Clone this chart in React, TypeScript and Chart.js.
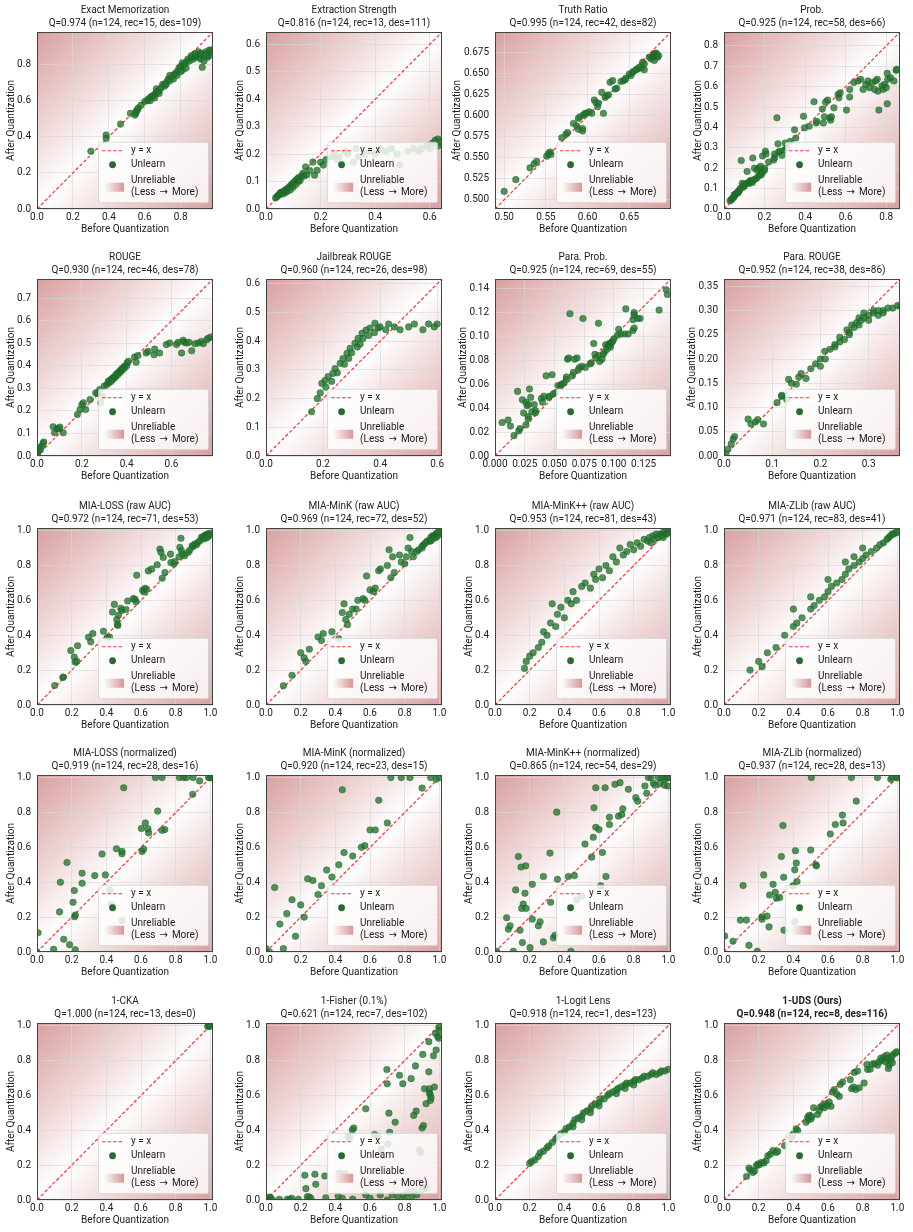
import { useEffect, useRef } from "react";
import { Chart, registerables } from "chart.js";

Chart.register(...registerables);

type Pt = [number, number];

// ---- per-metric scores: [before quantization, after quantization] ----
const exactMemorization: Pt[] = [
  [0.30,0.32],[0.385,0.41],[0.385,0.39],[0.465,0.47],[0.52,0.53],[0.545,0.52],[0.55,0.535],[0.555,0.545],[0.56,0.55],[0.565,0.56],
  [0.55,0.53],[0.58,0.575],[0.6,0.595],[0.615,0.6],[0.62,0.61],[0.63,0.6],[0.635,0.62],[0.64,0.625],[0.65,0.63],[0.655,0.615],
  [0.66,0.64],[0.665,0.665],[0.67,0.65],[0.68,0.655],[0.69,0.67],[0.70,0.69],[0.71,0.68],[0.72,0.70],[0.73,0.72],[0.74,0.71],
  [0.75,0.73],[0.76,0.74],[0.77,0.75],[0.78,0.76],[0.79,0.78],[0.80,0.79],[0.81,0.77],[0.81,0.81],[0.82,0.80],[0.83,0.81],
  [0.84,0.83],[0.85,0.82],[0.86,0.84],[0.87,0.83],[0.88,0.84],[0.89,0.85],[0.90,0.87],[0.90,0.84],[0.91,0.83],[0.92,0.785],
  [0.92,0.86],[0.93,0.85],[0.93,0.82],[0.94,0.87],[0.95,0.86],[0.95,0.84],[0.96,0.88],[0.96,0.85],[0.97,0.87],[0.97,0.88],
  [0.76,0.72],[0.72,0.69],[0.68,0.64],[0.78,0.74],[0.74,0.74],[0.8,0.76],[0.83,0.78],[0.86,0.85],[0.88,0.86],[0.91,0.86],[0.94,0.85],
];
const extractionStrength: Pt[] = [
  [0.035,0.04],[0.04,0.045],[0.045,0.05],[0.05,0.052],[0.052,0.058],[0.055,0.06],[0.06,0.062],[0.062,0.055],[0.065,0.065],[0.07,0.068],
  [0.072,0.06],[0.075,0.072],[0.08,0.075],[0.08,0.066],[0.085,0.08],[0.09,0.085],[0.09,0.07],[0.095,0.09],[0.1,0.095],[0.1,0.08],
  [0.105,0.1],[0.11,0.105],[0.11,0.09],[0.115,0.11],[0.12,0.1],[0.12,0.115],[0.125,0.105],[0.13,0.12],[0.135,0.13],[0.14,0.12],
  [0.145,0.153],[0.15,0.125],[0.16,0.14],[0.172,0.171],[0.178,0.123],[0.187,0.141],[0.2,0.17],[0.21,0.16],[0.22,0.18],[0.24,0.19],
  [0.25,0.2],[0.26,0.18],[0.27,0.19],[0.29,0.21],[0.3,0.2],[0.32,0.17],[0.33,0.22],[0.34,0.19],[0.36,0.2],[0.38,0.21],
  [0.4,0.2],[0.42,0.22],[0.44,0.21],[0.46,0.22],[0.48,0.2],[0.49,0.16],[0.52,0.21],[0.54,0.22],[0.56,0.21],[0.57,0.22],
  [0.59,0.23],[0.6,0.22],[0.61,0.24],[0.62,0.25],[0.63,0.255],[0.63,0.23],[0.635,0.245],
];
const truthRatio: Pt[] = [
  [0.500,0.510],[0.514,0.524],[0.531,0.538],[0.536,0.543],[0.539,0.546],[0.551,0.552],[0.553,0.555],[0.555,0.557],[0.556,0.554],[0.569,0.574],
  [0.574,0.578],[0.576,0.580],[0.583,0.591],[0.587,0.588],[0.589,0.584],[0.594,0.585],[0.594,0.582],[0.589,0.597],[0.591,0.599],[0.595,0.601],
  [0.597,0.603],[0.599,0.603],[0.602,0.605],[0.605,0.603],[0.608,0.619],[0.610,0.616],[0.612,0.611],[0.613,0.615],[0.617,0.628],[0.619,0.603],
  [0.621,0.622],[0.623,0.624],[0.625,0.625],[0.627,0.640],[0.630,0.642],[0.633,0.632],[0.635,0.633],[0.640,0.641],[0.643,0.642],[0.645,0.643],
  [0.646,0.645],[0.650,0.650],[0.652,0.648],[0.654,0.652],[0.655,0.653],[0.658,0.655],[0.660,0.656],[0.662,0.658],[0.665,0.657],[0.666,0.664],
  [0.668,0.655],[0.668,0.662],[0.674,0.670],[0.676,0.668],[0.678,0.671],[0.679,0.670],[0.680,0.674],[0.681,0.672],[0.682,0.675],[0.683,0.673],
  [0.684,0.670],[0.685,0.672],[0.680,0.666],
];
const prob: Pt[] = [
  [0.03,0.04],[0.035,0.045],[0.04,0.05],[0.045,0.055],[0.05,0.06],[0.05,0.07],[0.055,0.07],[0.06,0.075],[0.065,0.08],[0.07,0.085],
  [0.07,0.08],[0.075,0.09],[0.08,0.1],[0.085,0.238],[0.09,0.105],[0.09,0.126],[0.1,0.12],[0.1,0.11],[0.11,0.125],[0.114,0.184],
  [0.12,0.13],[0.125,0.125],[0.13,0.135],[0.13,0.14],[0.14,0.14],[0.14,0.13],[0.142,0.25],[0.15,0.145],[0.15,0.2],[0.16,0.15],
  [0.163,0.19],[0.17,0.16],[0.17,0.2],[0.18,0.17],[0.18,0.21],[0.184,0.168],[0.19,0.26],[0.19,0.18],[0.2,0.19],[0.2,0.2],
  [0.204,0.283],[0.207,0.27],[0.22,0.23],[0.245,0.24],[0.25,0.253],[0.25,0.27],[0.261,0.447],[0.266,0.32],[0.27,0.28],[0.278,0.283],
  [0.286,0.263],[0.3,0.29],[0.302,0.324],[0.31,0.3],[0.327,0.332],[0.348,0.389],[0.354,0.348],[0.392,0.455],[0.397,0.398],[0.42,0.406],
  [0.444,0.526],[0.455,0.422],[0.457,0.43],[0.485,0.49],[0.49,0.422],[0.495,0.452],[0.501,0.524],[0.511,0.534],[0.522,0.447],[0.526,0.435],
  [0.53,0.452],[0.542,0.496],[0.563,0.562],[0.567,0.545],[0.573,0.57],[0.604,0.485],[0.62,0.586],[0.62,0.549],[0.64,0.62],[0.661,0.628],
  [0.674,0.636],[0.686,0.586],[0.699,0.611],[0.71,0.628],[0.718,0.595],[0.731,0.619],[0.743,0.586],[0.748,0.628],[0.756,0.636],[0.759,0.578],
  [0.764,0.485],[0.779,0.603],[0.784,0.586],[0.792,0.611],[0.8,0.595],[0.805,0.665],[0.805,0.516],[0.808,0.636],[0.821,0.644],[0.838,0.628],
  [0.849,0.68],[0.852,0.685],
];
const rouge: Pt[] = [
  [0.003,0.007],[0.005,0.022],[0.008,0.037],[0.015,0.027],[0.022,0.044],[0.027,0.056],[0.03,0.062],[0.072,0.13],[0.078,0.103],[0.09,0.121],
  [0.097,0.121],[0.102,0.128],[0.117,0.103],[0.18,0.184],[0.192,0.206],[0.2,0.228],[0.207,0.236],[0.217,0.206],[0.237,0.25],[0.262,0.28],
  [0.27,0.277],[0.28,0.295],[0.285,0.236],[0.292,0.265],[0.3,0.31],[0.312,0.317],[0.318,0.332],[0.32,0.325],[0.33,0.339],[0.33,0.33],
  [0.337,0.346],[0.34,0.34],[0.345,0.351],[0.35,0.35],[0.352,0.361],[0.36,0.368],[0.36,0.36],[0.367,0.375],[0.37,0.37],[0.375,0.383],
  [0.38,0.38],[0.382,0.39],[0.39,0.398],[0.39,0.39],[0.4,0.4],[0.402,0.413],[0.408,0.42],[0.435,0.439],[0.442,0.416],[0.45,0.445],
  [0.487,0.457],[0.495,0.464],[0.522,0.449],[0.525,0.474],[0.547,0.457],[0.577,0.494],[0.592,0.501],[0.622,0.494],[0.63,0.504],[0.645,0.457],
  [0.652,0.513],[0.657,0.504],[0.667,0.501],[0.678,0.504],[0.69,0.467],[0.705,0.498],[0.72,0.501],[0.732,0.508],[0.742,0.498],[0.757,0.516],
  [0.765,0.523],[0.777,0.528],
];
const jailbreakRouge: Pt[] = [
  [0.16,0.154],[0.18,0.2],[0.19,0.22],[0.196,0.253],[0.207,0.263],[0.21,0.24],[0.218,0.277],[0.23,0.26],[0.235,0.288],[0.242,0.305],
  [0.25,0.29],[0.26,0.323],[0.27,0.34],[0.275,0.32],[0.284,0.358],[0.29,0.34],[0.295,0.375],[0.3,0.36],[0.312,0.393],[0.32,0.38],
  [0.323,0.41],[0.33,0.39],[0.337,0.428],[0.34,0.41],[0.351,0.439],[0.36,0.42],[0.365,0.446],[0.38,0.43],[0.382,0.463],[0.393,0.446],
  [0.4,0.45],[0.42,0.44],[0.43,0.46],[0.45,0.45],[0.47,0.44],[0.5,0.45],[0.52,0.46],[0.55,0.44],[0.57,0.46],[0.6,0.46],[0.59,0.45],
];
const paraProb: Pt[] = [
  [0.006,0.028],[0.011,0.03],[0.013,0.025],[0.016,0.017],[0.019,0.054],[0.020,0.021],[0.021,0.023],[0.023,0.047],[0.024,0.036],[0.026,0.045],
  [0.026,0.026],[0.027,0.042],[0.028,0.043],[0.028,0.033],[0.028,0.031],[0.029,0.056],[0.03,0.049],[0.031,0.037],[0.033,0.043],[0.034,0.038],
  [0.034,0.036],[0.039,0.048],[0.04,0.045],[0.041,0.05],[0.043,0.067],[0.045,0.049],[0.046,0.05],[0.048,0.068],[0.049,0.052],[0.051,0.053],
  [0.053,0.059],[0.055,0.059],[0.056,0.06],[0.058,0.061],[0.06,0.066],[0.06,0.064],[0.061,0.081],[0.062,0.082],[0.063,0.119],[0.065,0.067],
  [0.066,0.07],[0.067,0.081],[0.069,0.082],[0.07,0.072],[0.071,0.074],[0.073,0.075],[0.074,0.115],[0.076,0.074],[0.08,0.077],[0.081,0.078],
  [0.083,0.094],[0.084,0.085],[0.085,0.082],[0.087,0.111],[0.087,0.084],[0.088,0.079],[0.09,0.081],[0.091,0.085],[0.092,0.087],[0.093,0.093],
  [0.094,0.089],[0.095,0.092],[0.096,0.094],[0.097,0.091],[0.097,0.093],[0.098,0.095],[0.099,0.096],[0.1,0.098],[0.103,0.101],[0.104,0.106],
  [0.106,0.102],[0.109,0.102],[0.11,0.123],[0.112,0.102],[0.116,0.105],[0.117,0.107],[0.116,0.114],[0.117,0.12],[0.117,0.118],[0.12,0.115],
  [0.122,0.115],[0.138,0.122],[0.144,0.139],[0.145,0.135],
];
const paraRouge: Pt[] = [
  [0.004,0.004],[0.008,0.014],[0.015,0.025],[0.019,0.035],[0.022,0.04],[0.05,0.076],[0.056,0.066],[0.065,0.07],[0.07,0.075],[0.082,0.066],
  [0.11,0.11],[0.119,0.123],[0.12,0.125],[0.13,0.117],[0.134,0.158],[0.14,0.15],[0.15,0.148],[0.155,0.163],[0.16,0.17],[0.17,0.16],
  [0.18,0.18],[0.19,0.19],[0.2,0.2],[0.2,0.185],[0.209,0.216],[0.21,0.2],[0.22,0.22],[0.23,0.225],[0.23,0.23],[0.24,0.235],
  [0.24,0.245],[0.25,0.24],[0.255,0.26],[0.26,0.255],[0.26,0.25],[0.265,0.27],[0.27,0.265],[0.275,0.275],[0.28,0.27],[0.28,0.285],
  [0.285,0.28],[0.29,0.285],[0.29,0.295],[0.3,0.29],[0.3,0.28],[0.31,0.295],[0.31,0.3],[0.32,0.3],[0.32,0.29],[0.33,0.3],
  [0.33,0.295],[0.34,0.305],[0.35,0.305],[0.36,0.31],[0.366,0.309],
];
const miaLossRaw: Pt[] = [
  [0.102,0.112],[0.149,0.158],[0.152,0.16],[0.195,0.312],[0.215,0.275],[0.22,0.246],[0.23,0.25],[0.234,0.34],[0.297,0.388],[0.31,0.362],
  [0.322,0.41],[0.383,0.423],[0.406,0.388],[0.418,0.39],[0.435,0.533],[0.446,0.577],[0.46,0.49],[0.464,0.462],[0.466,0.456],[0.47,0.515],
  [0.483,0.554],[0.489,0.542],[0.513,0.548],[0.523,0.596],[0.556,0.61],[0.565,0.606],[0.571,0.592],[0.575,0.744],[0.609,0.658],[0.617,0.648],
  [0.623,0.669],[0.632,0.663],[0.642,0.769],[0.661,0.779],[0.693,0.804],[0.709,0.894],[0.715,0.875],[0.722,0.727],[0.728,0.846],[0.738,0.76],
  [0.77,0.865],[0.772,0.817],[0.789,0.808],[0.795,0.823],[0.82,0.85],[0.824,0.904],[0.83,0.956],[0.833,0.885],[0.839,0.865],[0.852,0.856],
  [0.872,0.875],[0.881,0.888],[0.895,0.913],[0.9,0.908],[0.91,0.923],[0.92,0.919],[0.929,0.933],[0.939,0.942],[0.948,0.962],[0.958,0.965],
  [0.962,0.952],[0.967,0.971],[0.977,0.977],[0.977,0.958],[0.987,0.981],[0.987,0.965],[0.996,0.985],[0.996,0.977],
];
const miaMinKRaw: Pt[] = [
  [0.1,0.11],[0.15,0.17],[0.2,0.3],[0.22,0.27],[0.23,0.25],[0.25,0.32],[0.3,0.39],[0.32,0.37],[0.33,0.41],[0.38,0.42],
  [0.42,0.38],[0.44,0.53],[0.45,0.58],[0.46,0.49],[0.47,0.46],[0.48,0.52],[0.5,0.55],[0.52,0.55],[0.53,0.6],[0.56,0.61],
  [0.57,0.6],[0.58,0.74],[0.6,0.66],[0.62,0.65],[0.63,0.67],[0.65,0.77],[0.66,0.78],[0.7,0.8],[0.71,0.89],[0.72,0.73],
  [0.73,0.85],[0.74,0.76],[0.77,0.86],[0.78,0.82],[0.8,0.81],[0.81,0.85],[0.82,0.9],[0.83,0.96],[0.84,0.88],[0.85,0.85],
  [0.87,0.88],[0.88,0.89],[0.9,0.91],[0.91,0.92],[0.93,0.94],[0.95,0.96],[0.96,0.97],[0.97,0.97],[0.98,0.98],[0.99,0.98],
  [1.0,0.99],[0.97,0.96],[0.98,0.96],[0.99,0.97],[0.96,0.95],[0.94,0.94],[0.9,0.9],[0.92,0.93],[0.95,0.94],[0.99,0.99],
];
const miaMinKppRaw: Pt[] = [
  [0.17,0.21],[0.18,0.25],[0.2,0.28],[0.22,0.3],[0.25,0.33],[0.27,0.36],[0.28,0.42],[0.3,0.4],[0.32,0.47],[0.33,0.58],
  [0.35,0.45],[0.36,0.52],[0.38,0.56],[0.4,0.5],[0.42,0.6],[0.44,0.58],[0.45,0.65],[0.47,0.6],[0.5,0.68],[0.52,0.7],
  [0.55,0.67],[0.57,0.75],[0.58,0.72],[0.6,0.78],[0.62,0.73],[0.64,0.8],[0.66,0.77],[0.68,0.85],[0.7,0.82],[0.72,0.9],
  [0.74,0.86],[0.76,0.88],[0.78,0.92],[0.8,0.89],[0.82,0.93],[0.84,0.91],[0.86,0.95],[0.88,0.94],[0.89,0.96],[0.9,0.93],
  [0.91,0.97],[0.92,0.95],[0.93,0.98],[0.94,0.96],[0.95,0.98],[0.96,0.97],[0.97,0.99],[0.98,0.98],[0.99,1.0],[1.0,0.99],
  [0.97,0.96],[0.99,0.98],
];
const miaZlibRaw: Pt[] = [
  [0.15,0.2],[0.2,0.25],[0.22,0.22],[0.25,0.3],[0.3,0.33],[0.35,0.4],[0.4,0.45],[0.4,0.55],[0.42,0.47],[0.45,0.5],
  [0.5,0.55],[0.5,0.62],[0.52,0.57],[0.55,0.6],[0.58,0.62],[0.6,0.65],[0.6,0.72],[0.62,0.68],[0.65,0.7],[0.68,0.72],
  [0.7,0.75],[0.7,0.82],[0.72,0.78],[0.75,0.8],[0.75,0.85],[0.78,0.82],[0.8,0.84],[0.8,0.9],[0.82,0.86],[0.85,0.88],
  [0.88,0.9],[0.9,0.92],[0.92,0.93],[0.94,0.95],[0.95,0.96],[0.96,0.97],[0.97,0.98],[0.98,0.98],[0.99,0.99],[1.0,0.99],
];
const miaLossNorm: Pt[] = [
  [0.0,0.0],[0.006,0.11],[0.096,0.015],[0.13,0.23],[0.135,0.4],[0.154,0.073],[0.173,0.513],[0.188,0.042],[0.208,0.285],[0.215,0.352],
  [0.217,0.202],[0.221,0.212],[0.221,0.013],[0.26,0.452],[0.26,0.394],[0.333,0.438],[0.375,0.562],[0.394,0.442],[0.419,0.356],[0.427,0.273],
  [0.458,0.592],[0.49,0.577],[0.49,0.563],[0.49,0.18],[0.5,0.942],[0.602,0.708],[0.606,0.577],[0.615,0.59],[0.625,0.74],[0.64,0.706],
  [0.644,0.683],[0.683,1.0],[0.696,0.808],[0.721,1.0],[0.721,0.698],[0.737,0.702],[0.821,1.0],[0.846,1.0],[0.862,1.0],[0.9,1.0],
  [0.898,0.904],[0.938,0.981],[0.996,1.0],[1.0,1.0],[0.99,1.0],
];
const miaMinKNorm: Pt[] = [
  [0.0,0.02],[0.02,0.0],[0.05,0.37],[0.08,0.16],[0.1,0.02],[0.12,0.22],[0.15,0.3],[0.17,0.09],[0.2,0.27],[0.22,0.2],
  [0.24,0.42],[0.27,0.41],[0.3,0.33],[0.32,0.38],[0.35,0.47],[0.38,0.43],[0.42,0.5],[0.44,0.93],[0.45,0.57],[0.5,0.55],
  [0.55,0.6],[0.57,0.61],[0.6,0.7],[0.63,0.7],[0.65,0.87],[0.7,0.74],[0.72,1.0],[0.78,1.0],[0.83,1.0],[0.9,0.94],
  [0.95,1.0],[0.98,0.99],[1.0,1.0],
];
const miaMinKppNorm: Pt[] = [
  [0.01,0.004],[0.067,0.196],[0.077,0.131],[0.087,0.15],[0.106,0.004],[0.119,0.356],[0.135,0.548],[0.144,0.125],[0.15,0.487],[0.154,0.25],
  [0.158,0.054],[0.163,0.275],[0.173,0.337],[0.177,0.494],[0.179,0.25],[0.202,0.025],[0.215,0.388],[0.215,0.188],[0.25,0.15],[0.26,0.173],
  [0.279,0.433],[0.279,0.058],[0.317,0.567],[0.321,0.285],[0.337,0.081],[0.346,0.096],[0.356,0.802],[0.36,0.417],[0.423,0.433],[0.438,0.004],
  [0.458,0.438],[0.47,0.3],[0.5,0.32],[0.519,0.619],[0.558,0.544],[0.567,0.658],[0.571,0.827],[0.581,0.942],[0.581,0.715],[0.6,0.702],
  [0.61,0.38],[0.619,0.571],[0.635,0.942],[0.64,0.433],[0.66,0.773],[0.66,0.731],[0.692,0.962],[0.712,0.779],[0.721,0.971],[0.731,0.788],
  [0.737,0.821],[0.769,0.933],[0.812,0.885],[0.823,0.865],[0.865,0.952],[0.875,0.91],[0.885,1.0],[0.9,1.0],[0.913,0.967],[0.923,0.956],
  [0.942,1.0],[0.952,0.967],[0.962,1.0],[0.977,0.956],[0.981,0.99],[0.99,1.0],[0.996,0.952],[1.0,1.0],
];
const miaZlibNorm: Pt[] = [
  [0.004,0.092],[0.052,0.062],[0.094,0.183],[0.11,0.381],[0.129,0.183],[0.144,0.038],[0.192,0.004],[0.219,0.202],[0.219,0.188],[0.229,0.442],
  [0.248,0.206],[0.26,0.144],[0.263,0.327],[0.283,0.388],[0.296,0.342],[0.302,0.308],[0.321,0.312],[0.331,0.548],[0.34,0.725],[0.344,0.429],
  [0.346,0.125],[0.398,0.379],[0.408,0.471],[0.412,0.581],[0.417,0.51],[0.421,0.404],[0.408,0.173],[0.5,0.585],[0.504,1.0],[0.529,0.5],
  [0.533,0.494],[0.613,0.677],[0.642,0.731],[0.687,0.74],[0.683,0.785],[0.735,1.0],[0.763,0.865],[0.885,1.0],[0.962,0.99],[0.969,1.0],
  [1.0,1.0],[0.995,1.0],
];
const oneMinusCka: Pt[] = [
  [0.985,0.995],[0.99,1.0],[0.995,1.0],[1.0,1.0],[0.998,0.997],[0.993,0.998],
];
const oneMinusFisher: Pt[] = [
  [0.01,0.004],[0.019,0.017],[0.027,0.013],[0.038,0.0],[0.077,0.004],[0.123,0.004],[0.138,0.004],[0.148,0.01],[0.186,0.004],[0.224,0.142],
  [0.23,0.065],[0.238,0.019],[0.249,0.017],[0.259,0.01],[0.282,0.148],[0.287,0.09],[0.345,0.013],[0.339,0.138],[0.416,0.023],[0.425,0.154],
  [0.44,0.01],[0.454,0.152],[0.473,0.36],[0.483,0.36],[0.498,0.402],[0.5,0.005],[0.506,0.413],[0.575,0.523],[0.575,0.029],[0.6,0.01],
  [0.626,0.375],[0.646,0.365],[0.659,0.029],[0.665,0.292],[0.697,0.748],[0.699,0.667],[0.7,0.0],[0.703,0.321],[0.709,0.498],[0.713,0.388],
  [0.728,0.029],[0.745,0.446],[0.76,0.02],[0.77,0.715],[0.789,0.667],[0.793,0.029],[0.8,0.005],[0.818,0.042],[0.837,0.696],[0.84,0.02],
  [0.852,0.485],[0.855,0.05],[0.862,0.769],[0.866,0.51],[0.87,0.03],[0.885,0.287],[0.891,0.273],[0.9,0.413],[0.9,0.06],[0.904,0.835],
  [0.908,0.427],[0.914,0.638],[0.923,0.552],[0.923,0.07],[0.939,0.908],[0.939,0.735],[0.943,0.638],[0.943,0.613],[0.946,0.606],[0.948,0.571],
  [0.952,0.587],[0.966,0.827],[0.971,0.648],[0.977,0.956],[0.981,0.86],[0.99,0.937],[0.996,0.99],[0.996,0.927],[1.0,0.971],
];
const oneMinusLogitLens: Pt[] = [
  [0.2,0.21],[0.21,0.22],[0.23,0.23],[0.25,0.25],[0.26,0.27],[0.28,0.28],[0.3,0.3],[0.31,0.31],[0.33,0.33],[0.35,0.35],
  [0.36,0.36],[0.38,0.38],[0.4,0.39],[0.41,0.41],[0.43,0.42],[0.45,0.44],[0.46,0.46],[0.48,0.47],[0.5,0.48],[0.51,0.5],
  [0.53,0.51],[0.55,0.52],[0.56,0.54],[0.58,0.55],[0.6,0.56],[0.61,0.58],[0.63,0.58],[0.65,0.6],[0.66,0.61],[0.68,0.62],
  [0.7,0.63],[0.71,0.64],[0.73,0.65],[0.75,0.66],[0.76,0.67],[0.78,0.67],[0.8,0.68],[0.81,0.69],[0.83,0.69],[0.85,0.7],
  [0.86,0.71],[0.88,0.71],[0.9,0.72],[0.91,0.73],[0.93,0.72],[0.95,0.73],[0.96,0.74],[0.98,0.74],[1.0,0.75],[0.55,0.5],
  [0.6,0.54],[0.7,0.61],[0.75,0.64],[0.8,0.66],[0.45,0.42],[0.5,0.46],
];
const oneMinusUds: Pt[] = [
  [0.13,0.135],[0.144,0.183],[0.153,0.171],[0.167,0.158],[0.176,0.167],[0.186,0.196],[0.195,0.206],[0.205,0.202],[0.215,0.215],[0.23,0.212],
  [0.243,0.225],[0.253,0.254],[0.268,0.263],[0.282,0.283],[0.301,0.273],[0.31,0.279],[0.349,0.312],[0.387,0.36],[0.397,0.375],[0.416,0.408],
  [0.425,0.398],[0.473,0.446],[0.483,0.475],[0.487,0.46],[0.492,0.485],[0.502,0.465],[0.506,0.479],[0.517,0.529],[0.54,0.49],[0.55,0.513],
  [0.559,0.533],[0.569,0.542],[0.579,0.529],[0.588,0.552],[0.598,0.542],[0.607,0.562],[0.617,0.537],[0.626,0.619],[0.636,0.633],[0.651,0.606],
  [0.665,0.594],[0.67,0.662],[0.684,0.677],[0.728,0.69],[0.736,0.638],[0.747,0.648],[0.751,0.731],[0.76,0.633],[0.77,0.74],[0.78,0.644],
  [0.808,0.671],[0.824,0.777],[0.828,0.748],[0.843,0.75],[0.856,0.779],[0.87,0.783],[0.885,0.773],[0.895,0.792],[0.904,0.812],[0.914,0.802],
  [0.923,0.821],[0.933,0.792],[0.939,0.831],[0.943,0.812],[0.948,0.754],[0.952,0.773],[0.962,0.802],[0.966,0.821],[0.971,0.787],[0.977,0.835],
  [0.99,0.844],[0.996,0.85],
];

// ---- panel titles, summary lines, axis limits and tick labels ----
const metricNames = [
  "Exact Memorization", "Extraction Strength", "Truth Ratio", "Prob.",
  "ROUGE", "Jailbreak ROUGE", "Para. Prob.", "Para. ROUGE",
  "MIA-LOSS (raw AUC)", "MIA-MinK (raw AUC)", "MIA-MinK++ (raw AUC)", "MIA-ZLib (raw AUC)",
  "MIA-LOSS (normalized)", "MIA-MinK (normalized)", "MIA-MinK++ (normalized)", "MIA-ZLib (normalized)",
  "1-CKA", "1-Fisher (0.1%)", "1-Logit Lens", "1-UDS (Ours)",
];
const qualityScores = [
  0.974, 0.816, 0.995, 0.925, 0.930, 0.960, 0.925, 0.952,
  0.972, 0.969, 0.953, 0.971, 0.919, 0.920, 0.865, 0.937,
  1.000, 0.621, 0.918, 0.948,
];
const recoveredCounts = [15, 13, 42, 58, 46, 26, 69, 38, 71, 72, 81, 83, 28, 23, 54, 28, 13, 7, 1, 8];
const destroyedCounts = [109, 111, 82, 66, 78, 98, 55, 86, 53, 52, 43, 41, 16, 15, 29, 13, 0, 102, 123, 116];
const sampleCount = 124;
const panelPoints: Pt[][] = [
  exactMemorization, extractionStrength, truthRatio, prob,
  rouge, jailbreakRouge, paraProb, paraRouge,
  miaLossRaw, miaMinKRaw, miaMinKppRaw, miaZlibRaw,
  miaLossNorm, miaMinKNorm, miaMinKppNorm, miaZlibNorm,
  oneMinusCka, oneMinusFisher, oneMinusLogitLens, oneMinusUds,
];
const axisLimits: [number, number][] = [
  [0, 0.98], [0, 0.645], [0.489, 0.70], [0, 0.868],
  [0, 0.785], [0, 0.617], [0, 0.148], [0, 0.365],
  [0, 1.015], [0, 1.015], [0, 1.015], [0, 1.015],
  [0, 1.015], [0, 1.015], [0, 1.015], [0, 1.015],
  [0, 1.015], [0, 1.015], [0, 1.015], [0, 1.015],
];
const unitTicks = [0, 0.2, 0.4, 0.6, 0.8, 1.0];
const xTickValues: number[][] = [
  [0, 0.2, 0.4, 0.6, 0.8], [0, 0.2, 0.4, 0.6], [0.5, 0.55, 0.6, 0.65], [0, 0.2, 0.4, 0.6, 0.8],
  [0, 0.2, 0.4, 0.6], [0, 0.2, 0.4, 0.6], [0, 0.025, 0.05, 0.075, 0.1, 0.125], [0, 0.1, 0.2, 0.3],
  unitTicks, unitTicks, unitTicks, unitTicks, unitTicks, unitTicks, unitTicks, unitTicks,
  unitTicks, unitTicks, unitTicks, unitTicks,
];
const yTickValues: number[][] = [
  [0, 0.2, 0.4, 0.6, 0.8], [0, 0.1, 0.2, 0.3, 0.4, 0.5, 0.6],
  [0.5, 0.525, 0.55, 0.575, 0.6, 0.625, 0.65, 0.675], [0, 0.1, 0.2, 0.3, 0.4, 0.5, 0.6, 0.7, 0.8],
  [0, 0.1, 0.2, 0.3, 0.4, 0.5, 0.6, 0.7], [0, 0.1, 0.2, 0.3, 0.4, 0.5, 0.6],
  [0, 0.02, 0.04, 0.06, 0.08, 0.1, 0.12, 0.14], [0, 0.05, 0.1, 0.15, 0.2, 0.25, 0.3, 0.35],
  unitTicks, unitTicks, unitTicks, unitTicks, unitTicks, unitTicks, unitTicks, unitTicks,
  unitTicks, unitTicks, unitTicks, unitTicks,
];
const xTickDecimals = [1, 1, 2, 1, 1, 1, 3, 1, 1, 1, 1, 1, 1, 1, 1, 1, 1, 1, 1, 1];
const yTickDecimals = [1, 1, 3, 1, 1, 1, 2, 2, 1, 1, 1, 1, 1, 1, 1, 1, 1, 1, 1, 1];
const highlightedPanel = 19;

// ---- page geometry ----
const FONT = 'Roboto, "Liberation Sans", sans-serif';
const ARROW_FONT = '"DejaVu Sans", sans-serif';
const TEXT = "#222";
const DIAG_COLOR = "rgb(255,50,50)";
const COL_LEFT = [37, 266, 495, 724];
const ROW_TOP = [32, 279, 528, 775, 1023];
const PLOT_W = 176;
const PLOT_H = 177;
const PAD_L = 60;
const PAD_T = 32;
const PAD_R = 16;
const PAD_B = 31;

function decorPlugin(idx: number) {
  const bold = idx === highlightedPanel;
  const title1 = metricNames[idx];
  const title2 = `Q=${qualityScores[idx].toFixed(3)} (n=${sampleCount}, rec=${recoveredCounts[idx]}, des=${destroyedCounts[idx]})`;
  const [lo, hi] = axisLimits[idx];
  return {
    id: "panelDecor" + idx,
    beforeDraw(chart: any) {
      // reliability shading: white along y = x, red towards the off-diagonal corners
      const { ctx, chartArea: a } = chart;
      ctx.save();
      const g = ctx.createLinearGradient(a.left, a.top, a.right, a.bottom);
      g.addColorStop(0, "rgba(192,95,95,0.6)");
      g.addColorStop(0.5, "rgba(192,95,95,0)");
      g.addColorStop(1, "rgba(192,95,95,0.6)");
      ctx.fillStyle = g;
      ctx.fillRect(a.left, a.top, a.right - a.left, a.bottom - a.top);
      ctx.restore();
    },
    beforeDatasetsDraw(chart: any) {
      // y = x reference line, placed through the axes
      const { ctx, chartArea: a, scales } = chart;
      ctx.save();
      ctx.beginPath();
      ctx.rect(a.left, a.top, a.right - a.left, a.bottom - a.top);
      ctx.clip();
      ctx.beginPath();
      ctx.setLineDash([3.5, 2]);
      ctx.strokeStyle = DIAG_COLOR;
      ctx.lineWidth = 1.2;
      ctx.moveTo(scales.x.getPixelForValue(lo), scales.y.getPixelForValue(lo));
      ctx.lineTo(scales.x.getPixelForValue(hi), scales.y.getPixelForValue(hi));
      ctx.stroke();
      ctx.restore();
    },
    afterDatasetsDraw(chart: any) {
      const { ctx, chartArea: a } = chart;
      const w = a.right - a.left;
      const h = a.bottom - a.top;
      ctx.save();
      // legend box
      const lx = a.left + 0.347 * w;
      const rx = a.left + 0.972 * w;
      const ty = a.top + 0.62 * h;
      const by = a.top + 0.962 * h;
      ctx.beginPath();
      ctx.roundRect(lx + 0.5, ty + 0.5, rx - lx, by - ty, 2);
      ctx.fillStyle = "rgba(255,255,255,0.82)";
      ctx.fill();
      ctx.strokeStyle = "rgba(205,205,205,0.9)";
      ctx.lineWidth = 0.8;
      ctx.stroke();
      // y = x entry
      ctx.beginPath();
      ctx.setLineDash([3.5, 2]);
      ctx.strokeStyle = DIAG_COLOR;
      ctx.lineWidth = 1.2;
      ctx.moveTo(lx + 4, ty + 9);
      ctx.lineTo(lx + 26, ty + 9);
      ctx.stroke();
      ctx.setLineDash([]);
      // unlearn marker
      ctx.beginPath();
      ctx.arc(lx + 14.5, ty + 23, 3.4, 0, Math.PI * 2);
      ctx.fillStyle = "rgba(28,100,38,0.95)";
      ctx.fill();
      // unreliable gradient swatch
      const sg = ctx.createLinearGradient(lx + 5, 0, lx + 26, 0);
      sg.addColorStop(0, "rgba(255,255,255,1)");
      sg.addColorStop(1, "rgb(214,150,150)");
      ctx.fillStyle = sg;
      ctx.fillRect(lx + 5, ty + 41, 21, 9);
      ctx.fillStyle = TEXT;
      ctx.font = `10px ${FONT}`;
      ctx.textAlign = "left";
      ctx.textBaseline = "middle";
      const tx = lx + 33;
      ctx.fillText("y = x", tx, ty + 9);
      ctx.fillText("Unlearn", tx, ty + 23);
      ctx.fillText("Unreliable", tx, ty + 38.5);
      const left = "(Less";
      ctx.fillText(left, tx, ty + 50.5);
      const ax = tx + ctx.measureText(left).width + 4;
      ctx.font = `10px ${ARROW_FONT}`;
      const arrow = "\u2192";
      ctx.fillText(arrow, ax, ty + 50.5);
      const mx = ax + ctx.measureText(arrow).width + 4;
      ctx.font = `10px ${FONT}`;
      ctx.fillText("More)", mx, ty + 50.5);
      // frame
      ctx.strokeStyle = "#444";
      ctx.lineWidth = 1;
      ctx.strokeRect(a.left + 0.5, a.top + 0.5, w - 1, h - 1);
      ctx.restore();
    },
    afterDraw(chart: any) {
      const { ctx, chartArea: a, scales } = chart;
      ctx.save();
      ctx.fillStyle = TEXT;
      ctx.textAlign = "center";
      ctx.textBaseline = "middle";
      const cx = (a.left + a.right) / 2;
      ctx.font = `${bold ? "bold " : ""}10px ${FONT}`;
      ctx.fillText(title1, cx, a.top - 22);
      ctx.fillText(title2, cx, a.top - 9);
      ctx.font = `10px ${FONT}`;
      ctx.fillText("Before Quantization", cx, a.bottom + 20);
      let widest = 0;
      for (const t of scales.y.ticks) {
        const label = Number(t.value).toFixed(yTickDecimals[idx]);
        widest = Math.max(widest, ctx.measureText(label).width);
      }
      ctx.translate(a.left - 7 - widest - 5, (a.top + a.bottom) / 2);
      ctx.rotate(-Math.PI / 2);
      ctx.fillText("After Quantization", 0, 0);
      ctx.restore();
    },
  };
}

function Panel({ idx }: { idx: number }) {
  const ref = useRef<HTMLCanvasElement | null>(null);
  useEffect(() => {
    if (!ref.current) return;
    const [lo, hi] = axisLimits[idx];
    const tickFont = { family: FONT, size: 10 };
    const grid = { color: "rgba(215,215,215,0.8)", lineWidth: 0.8, drawTicks: false };
    const chart = new Chart(ref.current, {
      type: "scatter",
      data: {
        datasets: [
          {
            data: panelPoints[idx].map(([x, y]) => ({ x, y })),
            pointRadius: 3.3,
            backgroundColor: "rgba(34,118,46,0.78)",
            borderColor: "rgba(25,92,35,0.8)",
            borderWidth: 0.5,
            clip: 0,
          } as any,
        ],
      },
      options: {
        animation: false,
        responsive: false,
        devicePixelRatio: 1,
        events: [],
        layout: { padding: { top: PAD_T, right: PAD_R, bottom: 0, left: 0 } },
        plugins: { legend: { display: false }, tooltip: { enabled: false }, title: { display: false } },
        scales: {
          x: {
            type: "linear",
            min: lo,
            max: hi,
            afterFit: (s: any) => { s.height = PAD_B; },
            afterBuildTicks: (s: any) => { s.ticks = xTickValues[idx].map((v) => ({ value: v })); },
            ticks: {
              font: tickFont,
              color: TEXT,
              padding: 2,
              maxRotation: 0,
              autoSkip: false,
              callback: (v: any) => Number(v).toFixed(xTickDecimals[idx]),
            },
            grid,
            border: { display: false },
          },
          y: {
            type: "linear",
            min: lo,
            max: hi,
            afterFit: (s: any) => { s.width = PAD_L; },
            afterBuildTicks: (s: any) => { s.ticks = yTickValues[idx].map((v) => ({ value: v })); },
            ticks: {
              font: tickFont,
              color: TEXT,
              padding: 6,
              autoSkip: false,
              callback: (v: any) => Number(v).toFixed(yTickDecimals[idx]),
            },
            grid,
            border: { display: false },
          },
        },
      } as any,
      plugins: [decorPlugin(idx)],
    });
    return () => chart.destroy();
  }, [idx]);
  const col = idx % 4;
  const row = Math.floor(idx / 4);
  const W = PAD_L + PLOT_W + PAD_R;
  const H = PAD_T + PLOT_H + PAD_B;
  return (
    <canvas
      ref={ref}
      width={W}
      height={H}
      style={{ position: "absolute", left: COL_LEFT[col] - PAD_L, top: ROW_TOP[row] - PAD_T, width: W, height: H }}
    />
  );
}

export default function App() {
  return (
    <div style={{ position: "absolute", left: 0, top: 0, width: 913, height: 1232, background: "#fff", overflow: "hidden" }}>
      {panelPoints.map((_, i) => (
        <Panel key={i} idx={i} />
      ))}
    </div>
  );
}
